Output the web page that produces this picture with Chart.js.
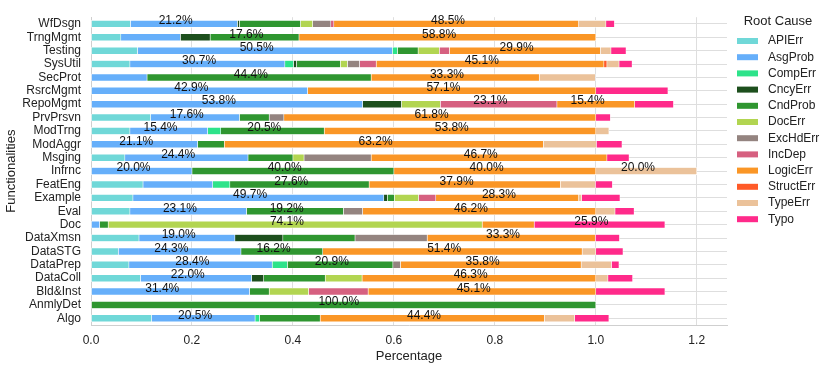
<!DOCTYPE html>
<html lang="en">
<head>
  <meta charset="UTF-8">
  <title>Root Cause by Functionality</title>
  <style>
    body { margin: 0; background: #fff; }
    #wrap { width: 830px; height: 370px; }
  </style>
</head>
<body>

<div id="wrap"><canvas id="rcChart"></canvas></div>

<script src="https://cdn.jsdelivr.net/npm/chart.js"></script>
<script>
  // categories, top to bottom
  const functionalities = ['WfDsgn', 'TrngMgmt', 'Testing', 'SysUtil', 'SecProt', 'RsrcMgmt', 'RepoMgmt',
    'PrvPrsvn', 'ModTrng', 'ModAggr', 'Msging', 'Infrnc', 'FeatEng', 'Example', 'Eval', 'Doc',
    'DataXmsn', 'DataSTG', 'DataPrep', 'DataColl', 'Bld&Inst', 'AnmlyDet', 'Algo'];

  const rootCauses = ['APIErr', 'AsgProb', 'CompErr', 'CncyErr', 'CndProb', 'DocErr', 'ExcHdErr',
    'IncDep', 'LogicErr', 'StructErr', 'TypeErr', 'Typo'];

  const causeColors = ['#70d8d8', '#66affa', '#2de38a', '#1d4f1d', '#2f9630', '#b2d551', '#948480',
    '#d66080', '#fa9626', '#ff5a28', '#ebc29a', '#ff2a8a'];

  // share of each root cause per functionality (same order as functionalities)
  const apiErr    = [0.078, 0.059, 0.092, 0.077, 0, 0, 0, 0.118, 0.077, 0, 0.067, 0, 0.103, 0.083, 0.077, 0, 0.095, 0.054, 0.075, 0.098, 0, 0, 0.120];
  const asgProb   = [0.212, 0.118, 0.505, 0.307, 0.111, 0.429, 0.538, 0.176, 0.154, 0.211, 0.244, 0.200, 0.138, 0.497, 0.231, 0.017, 0.190, 0.243, 0.284, 0.220, 0.314, 0, 0.205];
  const compErr   = [0, 0, 0.010, 0.017, 0, 0, 0, 0, 0.026, 0, 0, 0, 0.034, 0, 0, 0, 0, 0, 0.030, 0, 0, 0, 0.009];
  const cncyErr   = [0.004, 0.059, 0, 0.006, 0, 0, 0.077, 0, 0, 0, 0, 0, 0, 0.007, 0, 0, 0.095, 0, 0, 0.024, 0, 0, 0];
  const cndProb   = [0.121, 0.176, 0.041, 0.087, 0.444, 0, 0, 0.059, 0.205, 0.053, 0.089, 0.400, 0.276, 0.014, 0.192, 0.017, 0.143, 0.162, 0.209, 0.122, 0.039, 1.000, 0.120];
  const docErr    = [0.024, 0, 0.042, 0.014, 0, 0, 0.077, 0, 0, 0, 0.022, 0, 0, 0.048, 0, 0.741, 0, 0, 0, 0.073, 0.078, 0, 0];
  const excHdErr  = [0.036, 0, 0, 0.024, 0, 0, 0, 0.029, 0, 0, 0.133, 0, 0, 0, 0.038, 0, 0.143, 0, 0.015, 0, 0, 0, 0];
  const incDep    = [0.006, 0, 0.020, 0.033, 0, 0, 0.231, 0, 0, 0, 0, 0, 0, 0.034, 0, 0, 0, 0, 0, 0, 0.118, 0, 0];
  const logicErr  = [0.485, 0.588, 0.299, 0.451, 0.333, 0.571, 0.154, 0.618, 0.538, 0.632, 0.467, 0.400, 0.379, 0.283, 0.462, 0.103, 0.333, 0.514, 0.358, 0.463, 0.451, 0, 0.444];
  const structErr = [0, 0, 0, 0.006, 0, 0, 0, 0, 0, 0, 0, 0, 0, 0, 0, 0, 0, 0, 0, 0, 0, 0, 0];
  const typeErr   = [0.054, 0, 0.021, 0.024, 0.111, 0, 0, 0, 0.026, 0.105, 0, 0.200, 0.069, 0.006, 0.038, 0, 0, 0.027, 0.060, 0.024, 0, 0, 0.060];
  const typo      = [0.017, 0, 0.030, 0.026, 0, 0.143, 0.077, 0.029, 0, 0.051, 0.044, 0, 0.034, 0.076, 0.038, 0.259, 0.048, 0.054, 0.015, 0.049, 0.137, 0, 0.068];

  const seriesValues = [apiErr, asgProb, compErr, cncyErr, cndProb, docErr, excHdErr, incDep, logicErr, structErr, typeErr, typo];
  const xTicks = [0, 0.2, 0.4, 0.6, 0.8, 1.0, 1.2];

  const FONT = "'Liberation Sans', Arial, sans-serif";
  Chart.defaults.font.family = FONT;
  Chart.defaults.color = '#222';

  // percentage text on the larger segments
  const segmentLabels = {
    id: 'segmentLabels',
    afterDatasetsDraw(chart) {
      const ctx = chart.ctx;
      const xs = chart.scales.x;
      const shift = xs.getPixelForValue(0.05) - xs.getPixelForValue(0);
      ctx.save();
      ctx.font = '12px ' + FONT;
      ctx.fillStyle = '#111';
      ctx.textAlign = 'left';
      ctx.textBaseline = 'middle';
      chart.data.datasets.forEach((ds, i) => {
        const meta = chart.getDatasetMeta(i);
        meta.data.forEach((bar, j) => {
          const v = ds.data[j];
          if (v >= 0.15) {
            const cx = (bar.x + bar.base) / 2 - shift;
            ctx.fillText((v * 100).toFixed(1) + '%', cx, bar.y - 3);
          }
        });
      });
      ctx.restore();
    }
  };

  // legend drawn to the right of the plot
  const sideLegend = {
    id: 'sideLegend',
    afterDraw(chart) {
      const ctx = chart.ctx;
      ctx.save();
      ctx.fillStyle = '#222';
      ctx.textBaseline = 'middle';
      ctx.textAlign = 'center';
      ctx.font = '13px ' + FONT;
      ctx.fillText('Root Cause', 778, 21);
      ctx.textAlign = 'left';
      ctx.font = '12px ' + FONT;
      chart.data.datasets.forEach((ds, i) => {
        const y = 41 + i * 16.2;
        ctx.fillStyle = ds.backgroundColor;
        ctx.fillRect(737, y - 3, 21, 6);
        ctx.fillStyle = '#222';
        ctx.fillText(ds.label, 768, y);
      });
      ctx.restore();
    }
  };

  const ctx = document.getElementById('rcChart').getContext('2d');
  const rcChart = new Chart(ctx, {
    type: 'bar',
    data: {
      labels: functionalities,
      datasets: rootCauses.map((name, i) => ({
        label: name,
        data: seriesValues[i],
        backgroundColor: causeColors[i],
        borderColor: '#ffffff',
        borderWidth: 0.6,
        borderSkipped: false,
        barThickness: 7
      }))
    },
    options: {
      indexAxis: 'y',
      responsive: true,
      maintainAspectRatio: false,
      animation: false,
      layout: { padding: { top: 8, right: 103, left: 0, bottom: 0 } },
      plugins: {
        legend: { display: false },
        tooltip: { enabled: false }
      },
      scales: {
        x: {
          stacked: true,
          min: 0,
          max: 1.26,
          afterFit: s => { s.height = 45; },
          afterBuildTicks: s => { s.ticks = xTicks.map(v => ({ value: v })); },
          ticks: {
            padding: 8,
            font: { size: 12 },
            callback: v => Number(v).toFixed(1)
          },
          grid: { color: '#dedede', lineWidth: 1, drawTicks: false },
          border: { display: true, color: '#cfcfcf' },
          title: { display: true, text: 'Percentage', font: { size: 13 }, padding: { top: 2, bottom: 6 } }
        },
        y: {
          stacked: true,
          afterFit: s => { s.width = 91; },
          ticks: { padding: 10, font: { size: 12 }, autoSkip: false },
          grid: { color: '#dedede', lineWidth: 1, drawTicks: false, offset: false },
          border: { display: true, color: '#cfcfcf' },
          title: { display: true, text: 'Functionalities', font: { size: 13 }, padding: { top: 4, bottom: 4 } }
        }
      }
    },
    plugins: [segmentLabels, sideLegend]
  });
</script>

</body>
</html>
